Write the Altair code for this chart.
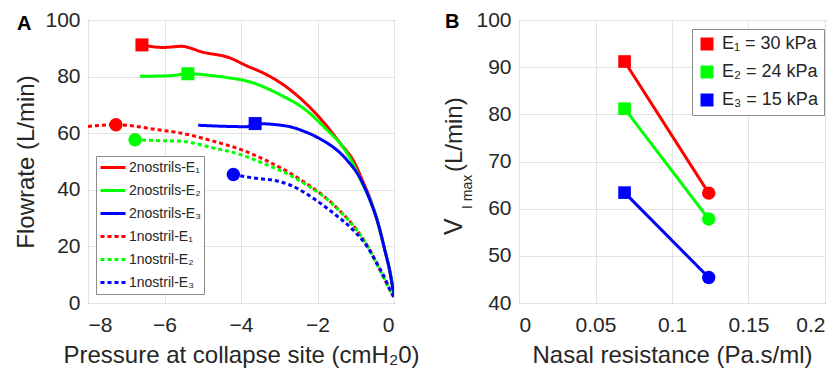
import altair as alt
import pandas as pd

# ---------------- Panel A data (pressure cmH2O, flowrate L/min) ----------------
series_names = ["2nostrils-E₁", "2nostrils-E₂", "2nostrils-E₃",
                "1nostril-E₁", "1nostril-E₂", "1nostril-E₃"]
colors = ["#ff0000", "#00ff00", "#0000ff", "#ff0000", "#00ff00", "#0000ff"]

p_2n_e1 = [-6.59, -6.04, -5.54, -5.33, -5.07, -4.29, -3.85, -3.42, -2.72, -2.25, -1.85, -1.41, -1.05, -0.80, -0.60, -0.42, -0.24, -0.10, 0.0]
f_2n_e1 = [91.2, 90.3, 90.7, 90.1, 88.9, 86.6, 83.8, 81.3, 75.4, 69.8, 64.0, 56.5, 50.0, 42.5, 36.0, 28.3, 18.7, 10.6, 2.5]

p_2n_e2 = [-6.64, -5.86, -5.39, -4.73, -4.29, -3.84, -2.98, -2.27, -1.80, -1.33, -1.10, -0.82, -0.61, -0.42, -0.24, -0.10, 0.0]
f_2n_e2 = [80.1, 80.3, 81.0, 80.3, 79.5, 78.4, 73.6, 67.8, 61.8, 55.0, 50.0, 42.0, 36.0, 28.3, 18.7, 10.6, 2.5]

p_2n_e3 = [-5.12, -3.85, -3.63, -2.80, -2.38, -2.00, -1.23, -0.89, -0.63, -0.42, -0.24, -0.10, 0.0]
f_2n_e3 = [62.8, 62.3, 63.4, 62.5, 60.8, 58.5, 50.5, 44.2, 36.4, 28.3, 18.7, 10.6, 2.5]

p_1n_e1 = [-8.0, -7.27, -6.12, -5.59, -4.73, -4.00, -3.32, -2.72, -2.27, -1.93, -1.41, -0.97, -0.63, -0.37, -0.16, 0.0]
f_1n_e1 = [62.4, 63.0, 61.1, 60.1, 57.2, 54.2, 50.2, 45.9, 42.0, 38.8, 32.5, 25.8, 18.7, 11.7, 6.0, 2.0]

p_1n_e2 = [-6.77, -5.95, -5.59, -4.73, -4.00, -3.32, -2.72, -2.27, -1.93, -1.41, -0.97, -0.63, -0.37, -0.16, 0.0]
f_1n_e2 = [57.7, 57.3, 57.2, 54.8, 52.4, 48.8, 45.2, 41.6, 38.6, 32.3, 25.7, 18.6, 11.6, 6.0, 2.0]

p_1n_e3 = [-4.20, -3.69, -3.06, -2.72, -2.12, -1.59, -1.07, -0.71, -0.45, -0.24, -0.10, 0.0]
f_1n_e3 = [45.4, 44.2, 43.1, 41.7, 37.1, 31.8, 25.8, 20.1, 14.1, 8.8, 4.6, 2.0]

# markers on panel A (flow limitation points)
sq_p = [-6.59, -5.39, -3.63]
sq_f = [91.2, 81.0, 63.4]
ci_p = [-7.27, -6.77, -4.20]
ci_f = [63.0, 57.7, 45.4]

# ---------------- Panel B data ----------------
e_labels = ["E₁ = 30 kPa", "E₂ = 24 kPa", "E₃ = 15 kPa"]
res_2n = 0.069
res_1n = 0.124
vmax_2n = [91.2, 81.2, 63.4]
vmax_1n = [63.3, 57.8, 45.4]

FONT = "Liberation Sans"
TXT = "#262626"

# ---- build tables ----
curves = [(p_2n_e1, f_2n_e1), (p_2n_e2, f_2n_e2), (p_2n_e3, f_2n_e3),
          (p_1n_e1, f_1n_e1), (p_1n_e2, f_1n_e2), (p_1n_e3, f_1n_e3)]
rows = []
for name, (xs, ys) in zip(series_names, curves):
    for i, (xv, yv) in enumerate(zip(xs, ys)):
        rows.append({"p": xv, "f": yv, "series": name, "i": i})
dfA = pd.DataFrame(rows)

dfSq = pd.DataFrame({"p": sq_p, "f": sq_f, "series": series_names[:3]})
dfCi = pd.DataFrame({"p": ci_p, "f": ci_f, "series": series_names[3:]})

dashes = [[1, 0], [1, 0], [1, 0], [4, 3], [4, 3], [4, 3]]
color_scale = alt.Scale(domain=series_names, range=colors)
dash_scale = alt.Scale(domain=series_names, range=dashes)

legA = alt.Legend(title=None, orient="none", legendX=8, legendY=136,
                  symbolType="stroke", symbolSize=625, symbolStrokeWidth=3,
                  labelFontSize=14, labelFont=FONT, labelColor=TXT,
                  labelOffset=2, rowPadding=6, padding=3, clipHeight=17,
                  strokeColor="#8c8c8c", fillColor="white", cornerRadius=0)

xA = alt.X("p:Q", scale=alt.Scale(domain=[-8, 0], nice=False),
           axis=alt.Axis(values=[-8, -6, -4, -2, 0], title="Pressure at collapse site (cmH₂0)"))
yA = alt.Y("f:Q", scale=alt.Scale(domain=[0, 100], nice=False),
           axis=alt.Axis(values=[0, 20, 40, 60, 80, 100], title="Flowrate (L/min)"))

linesA = alt.Chart(dfA).mark_line(strokeWidth=3, clip=True, interpolate="monotone").encode(
    x=xA, y=yA,
    color=alt.Color("series:N", scale=color_scale, legend=legA),
    strokeDash=alt.StrokeDash("series:N", scale=dash_scale, legend=legA),
    order="i:Q",
)
sqA = alt.Chart(dfSq).mark_point(shape="square", filled=True, size=169, opacity=1).encode(
    x="p:Q", y="f:Q", color=alt.Color("series:N", scale=color_scale, legend=None))
ciA = alt.Chart(dfCi).mark_point(shape="circle", filled=True, size=180, opacity=1).encode(
    x="p:Q", y="f:Q", color=alt.Color("series:N", scale=color_scale, legend=None))

one = pd.DataFrame({"k": [0]})
labelA = alt.Chart(one).mark_text(text="A", fontSize=20, fontWeight="bold", font=FONT,
                                  align="left", baseline="alphabetic", color="black").encode(
    x=alt.value(-71), y=alt.value(10))

panelA = alt.layer(linesA, sqA, ciA, labelA).properties(width=306, height=283)

# ---- panel B ----
rowsB = []
for lab, a, b in zip(e_labels, vmax_2n, vmax_1n):
    rowsB.append({"r": res_2n, "v": a, "E": lab, "kind": "2 nostrils"})
    rowsB.append({"r": res_1n, "v": b, "E": lab, "kind": "1 nostril"})
dfB = pd.DataFrame(rowsB)
colB = alt.Scale(domain=e_labels, range=colors[:3])

legB = alt.Legend(title=None, orient="none", legendX=173, legendY=9,
                  symbolType="square", symbolSize=169, symbolStrokeWidth=0,
                  labelFontSize=18, labelFont=FONT, labelColor=TXT,
                  labelOffset=6, rowPadding=10, padding=6,
                  strokeColor="#8c8c8c", fillColor="white")

xB = alt.X("r:Q", scale=alt.Scale(domain=[0, 0.2], nice=False),
           axis=alt.Axis(values=[0, 0.05, 0.1, 0.15, 0.2], format="~g", title="Nasal resistance (Pa.s/ml)"))
yB = alt.Y("v:Q", scale=alt.Scale(domain=[40, 100], nice=False),
           axis=alt.Axis(values=[40, 50, 60, 70, 80, 90, 100], title=None))

sqB = alt.Chart(dfB).transform_filter(alt.datum.kind == "2 nostrils").mark_point(
    shape="square", filled=True, size=160, opacity=1).encode(
    x=xB, y=yB, color=alt.Color("E:N", scale=colB, legend=legB))
linesB = alt.Chart(dfB).mark_line(strokeWidth=3).encode(
    x="r:Q", y="v:Q", color=alt.Color("E:N", scale=colB, legend=None), detail="E:N")
ciB = alt.Chart(dfB).transform_filter(alt.datum.kind == "1 nostril").mark_point(
    shape="circle", filled=True, size=180, opacity=1).encode(
    x="r:Q", y="v:Q", color=alt.Color("E:N", scale=colB, legend=None))

labelB = alt.Chart(one).mark_text(text="B", fontSize=20, fontWeight="bold", font=FONT,
                                  align="left", baseline="alphabetic", color="black").encode(
    x=alt.value(-74), y=alt.value(8))
tV = alt.Chart(one).mark_text(text="V", fontSize=25, font=FONT, angle=270,
                              align="left", baseline="alphabetic", color=TXT).encode(
    x=alt.value(-57), y=alt.value(215))
tSub = alt.Chart(one).mark_text(text="I max", fontSize=14, font=FONT, angle=270,
                                align="left", baseline="alphabetic", color=TXT).encode(
    x=alt.value(-47), y=alt.value(189))
tUnit = alt.Chart(one).mark_text(text="(L/min)", fontSize=24, font=FONT, angle=270,
                                 align="left", baseline="alphabetic", color=TXT).encode(
    x=alt.value(-57), y=alt.value(152))

panelB = alt.layer(sqB, linesB, ciB, labelB, tV, tSub, tUnit).properties(width=306, height=283)

chart = alt.hconcat(panelA, panelB, spacing=125, bounds="flush").resolve_scale(
    color="independent", strokeDash="independent"
).properties(
    padding={"left": 6, "top": 0, "right": 0, "bottom": 0}
).configure(font=FONT).configure_view(
    stroke="#404040", strokeWidth=1
).configure_axis(
    labelFont=FONT, titleFont=FONT, labelFontSize=21, titleFontSize=24,
    labelColor=TXT, titleColor=TXT, titleFontWeight="normal",
    domain=False, ticks=False, grid=True, gridColor="#e3e3e3", gridWidth=1,
    labelPadding=8,
).configure_axisX(labelPadding=11, titlePadding=8).configure_axisY(titlePadding=6)

chart.save("out.html", embed_options={"renderer": "svg", "actions": False})
